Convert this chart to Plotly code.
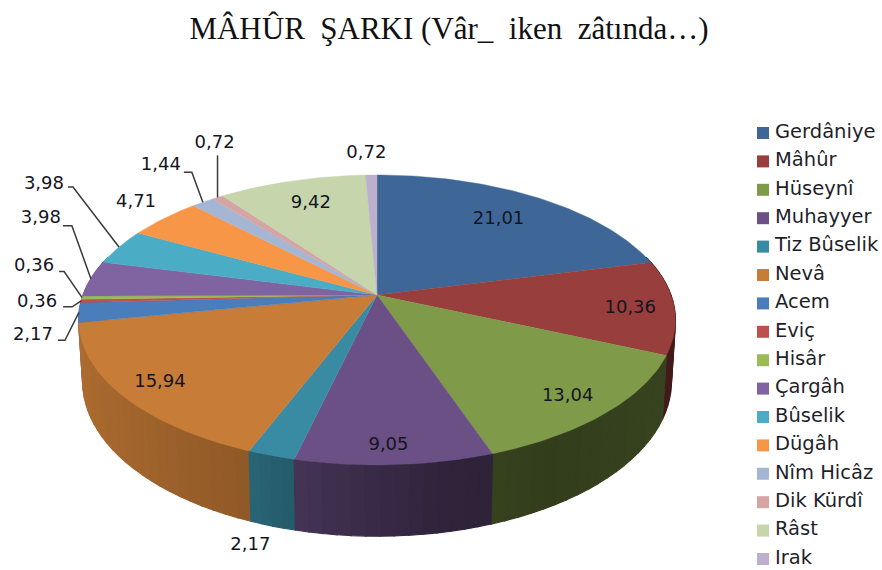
import numpy as np
import plotly.graph_objects as go

title_text = "MÂHÛR  ŞARKI (Vâr_  iken  zâtında…)"
categories = ["Gerdâniye", "Mâhûr", "Hüseynî", "Muhayyer", "Tiz Bûselik", "Nevâ", "Acem", "Eviç",
              "Hisâr", "Çargâh", "Bûselik", "Dügâh", "Nîm Hicâz", "Dik Kürdî", "Râst", "Irak"]
values = [21.01, 10.36, 13.04, 9.05, 2.17, 15.94, 2.17, 0.36, 0.36, 3.98, 3.98, 4.71, 1.44, 0.72, 9.42, 0.72]
colors = ["#3e6797", "#983e3c", "#7f9a48", "#6a5084", "#398ba3", "#c77c37", "#4a7dbb", "#bf5050",
          "#9bbb59", "#8064a2", "#4bacc6", "#f79646", "#a5b6d5", "#d5a5a5", "#c6d5ac", "#bcb0cd"]

# Layout only: projection of the pie and label placement relative to each slice's rim midpoint
CX, TOP_CY, TOP_A, TOP_B, TOP_K = 377, 295, 294, 140.7, 0.172
BOT_CY, BOT_A, BOT_B, BOT_K = 355, 290, 150, 0.172
LEG_SWATCH_X, LEG_TEXT_X, LEG_Y0, LEG_STEP = 763, 775, 133, 28.4
LABEL_DY = 2
label_off = [(-38, 20), (-44, -1), (-38, -19), (-6, -21), (-21, 88), (37, -16), (-46, 21), (-44, 0),
             (-48, -33), (-50, -62), (-75, -65), (-28, -18), (-42, -39), (-3, -56), (19, 21), (-5, -23)]
leaders = {6: [(-14, 28), (-21, 28)], 7: [(-9, 6), (-18, 6)], 8: [(-18, -26), (-23, -26)],
           9: [(-19, -53), (-28, -53)], 10: [(-46, -60), (-51, -60)],
           12: [(-11, -30), (-19, -30)], 13: [(0, -42)]}


def top(t):
    u, v = np.sin(t), np.cos(t)
    d = 1 + TOP_K * v
    return CX + TOP_A * u / d, TOP_CY - TOP_B * v / d


def bot(t):
    u, v = np.sin(t), np.cos(t)
    d = 1 + BOT_K * v
    return CX + BOT_A * u / d, BOT_CY - BOT_B * v / d


def shade(hex_color, t):
    f = np.interp(np.sin(t), [-1, -0.35, -0.1, 0.15, 0.5, 1], [0.88, 0.72, 0.58, 0.47, 0.40, 0.45])
    rgb = [int(hex_color[i:i + 2], 16) for i in (1, 3, 5)]
    return "rgb(%d,%d,%d)" % tuple(c * f for c in rgb)


vals = np.array(values)
edges = np.concatenate([[0], np.cumsum(vals)]) / vals.sum() * 2 * np.pi
mids = (edges[:-1] + edges[1:]) / 2

fig = go.Figure()

# side wall facets, far to near
facets = []
for i in range(len(vals)):
    n = max(1, int(np.ceil((edges[i + 1] - edges[i]) / np.radians(2.5))))
    ts = np.linspace(edges[i], edges[i + 1], n + 1)
    for a, b in zip(ts[:-1], ts[1:]):
        if np.cos((a + b) / 2) < 0.3:
            facets.append((np.cos((a + b) / 2), a, b, i))
facets.sort(key=lambda f: -f[0])
for _, a, b, i in facets:
    xa, ya = top(a); xb, yb = top(b)
    xc, yc = bot(b); xd, yd = bot(a)
    col = shade(colors[i], (a + b) / 2)
    fig.add_trace(go.Scatter(x=[xa, xb, xc, xd, xa], y=[ya, yb, yc, yd, ya], mode="lines", fill="toself",
                             fillcolor=col, line=dict(color=col, width=1.2), showlegend=False, hoverinfo="skip"))

# top faces
for i in range(len(vals)):
    n = max(2, int(np.ceil((edges[i + 1] - edges[i]) / np.radians(1))))
    ts = np.linspace(edges[i], edges[i + 1], n + 1)
    xs, ys = top(ts)
    fig.add_trace(go.Scatter(x=np.r_[CX, xs, CX], y=np.r_[TOP_CY, ys, TOP_CY], mode="lines", fill="toself",
                             fillcolor=colors[i], line=dict(color=colors[i], width=0.4),
                             name=categories[i], showlegend=False, hoverinfo="name"))

# leader lines
for i, pts in leaders.items():
    ax, ay = top(mids[i])
    fig.add_trace(go.Scatter(x=[ax] + [ax + p[0] for p in pts], y=[ay] + [ay + p[1] for p in pts], mode="lines",
                             line=dict(color="#3a3a3a", width=1.5), showlegend=False, hoverinfo="skip"))

# data labels
lx, ly = top(mids)
lx = lx + np.array([o[0] for o in label_off])
ly = ly + np.array([o[1] for o in label_off]) + LABEL_DY
fig.add_trace(go.Scatter(x=lx, y=ly, mode="text", text=[f"{v:.2f}".replace(".", ",") for v in values],
                         textposition="middle center", textfont=dict(family="DejaVu Sans", size=18, color="#15151f"),
                         showlegend=False, hoverinfo="skip"))

# legend column (swatch and text placed to match the reference's tight spacing)
leg_y = LEG_Y0 + LEG_STEP * np.arange(len(categories))
fig.add_trace(go.Scatter(x=[LEG_SWATCH_X] * len(categories), y=leg_y, mode="markers",
                         marker=dict(symbol="square", size=12, color=colors), showlegend=False, hoverinfo="skip"))
fig.add_trace(go.Scatter(x=[LEG_TEXT_X] * len(categories), y=leg_y, mode="text", text=categories,
                         textposition="middle right",
                         textfont=dict(family="DejaVu Sans", size=19.5, color="#1f1f2a"),
                         showlegend=False, hoverinfo="skip"))

fig.update_layout(
    width=882, height=570, margin=dict(l=0, r=0, t=0, b=0, autoexpand=False),
    paper_bgcolor="white", plot_bgcolor="white", showlegend=False,
    xaxis=dict(range=[0, 882], visible=False, fixedrange=True),
    yaxis=dict(range=[570, 0], visible=False, fixedrange=True),
    title=dict(text=title_text, x=449 / 882, xanchor="center", y=1 - 28 / 570, yanchor="middle",
               font=dict(family="Liberation Serif", size=31, color="#111111")),
)
fig.write_html("out.html", config={"displayModeBar": False},
               post_script="document.body.style.margin='0';document.body.style.overflow='hidden';")
